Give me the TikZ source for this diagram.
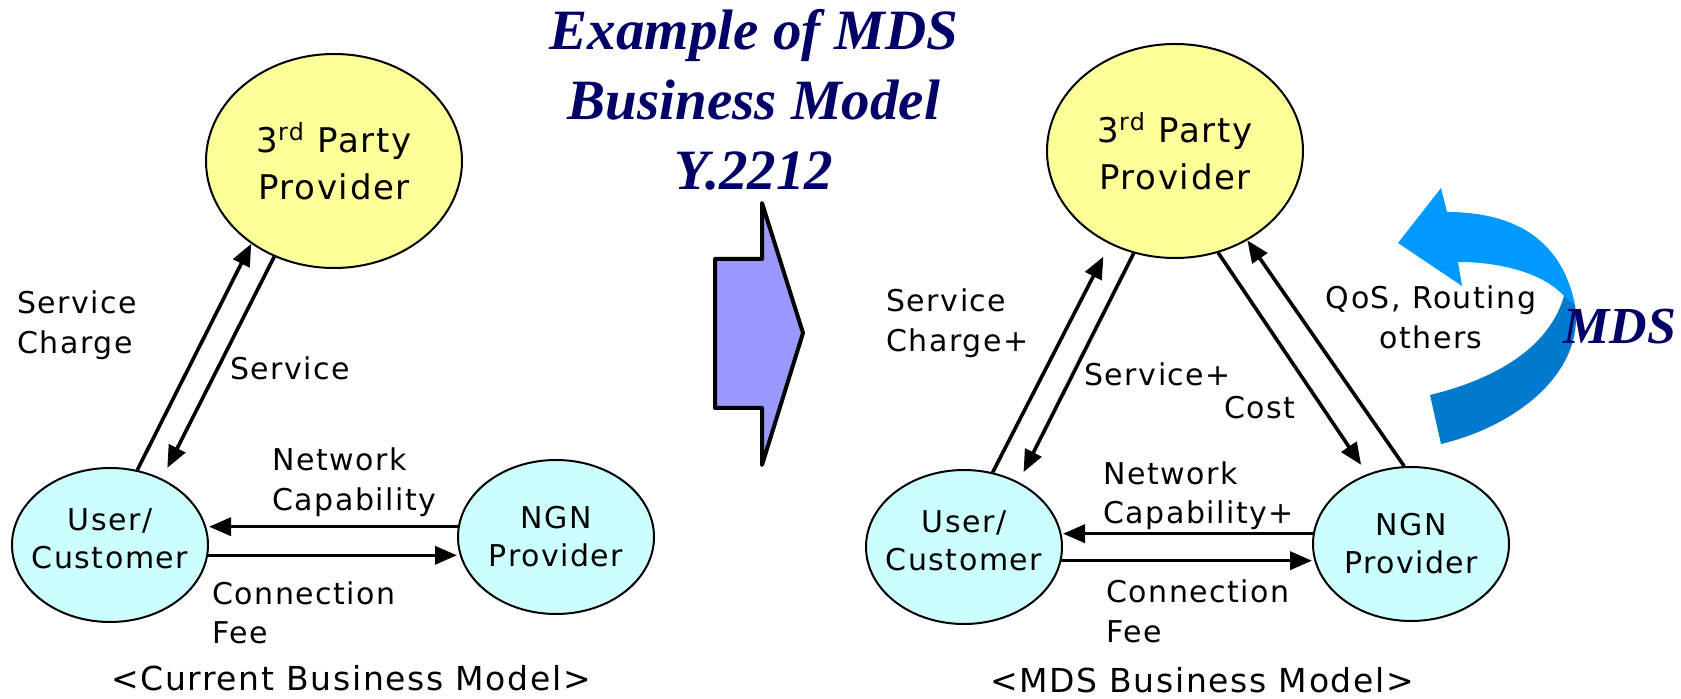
\documentclass[tikz,border=0pt]{standalone}
\usepackage{fontspec}
\setmainfont{DejaVu Sans}[LetterSpace=5]
\newfontfamily\titlefont{Liberation Serif}
\usetikzlibrary{shapes.geometric,arrows.meta}
\definecolor{partyyellow}{RGB}{255,255,153}
\definecolor{actorcyan}{RGB}{204,255,255}
\definecolor{shiftblue}{RGB}{153,153,255}
\definecolor{titlenavy}{RGB}{0,0,102}
\definecolor{mdslight}{RGB}{0,153,255}
\definecolor{mdsdark}{RGB}{0,122,204}
\tikzset{
  party/.style={ellipse, draw, line width=1pt, fill=partyyellow,
    minimum width=128pt, minimum height=107pt, inner sep=0pt},
  actor/.style={ellipse, draw, line width=1pt, fill=actorcyan,
    minimum width=98pt, minimum height=77pt, inner sep=0pt},
  partytext/.style={align=center, inner sep=0pt, font=\fontsize{17}{23.5}\selectfont},
  actortext/.style={align=center, inner sep=0pt, font=\fontsize{15}{19}\selectfont},
  lbl/.style={anchor=base west, align=left, inner sep=0pt, font=\fontsize{15}{20}\selectfont},
  caption/.style={anchor=base, inner sep=0pt, font=\fontsize{16.5}{20}\selectfont},
  link/.style={line width=1.8pt, -{Triangle[length=11pt,width=9pt]}},
  heading/.style={inner sep=0pt, text=titlenavy},
}
\begin{document}
\begin{tikzpicture}[x=0.5pt, y=-0.5pt]
    \useasboundingbox (0,0) rectangle (1681,699);
    % current model
    \node [party] (tpL) at (334,161) {};
    \node [actor] (userL) at (110,545) {};
    \node [actor] (ngnL) at (556,537) {};
    \node [partytext] (tpLtext) at (tpL) {3\textsuperscript{rd} Party\\Provider};
    \node [actortext, yshift=3pt] (userLtext) at (userL) {User/\\Customer};
    \node [actortext] (ngnLtext) at (ngnL) {NGN\\Provider};
    \path (userL.70) edge [link] (tpL.225);
    \path (tpL.238) edge [link, shorten >=6pt] (userL.52);
    \path (ngnL.174) edge [link] (ngnL.174 -| userL.east);
    \path (userL.-6) edge [link] (userL.-6 -| ngnL.west);
    \node [lbl] (scL) at (17,354) {Service\\Charge};
    \node [lbl] (svL) at (230,380) {Service};
    \node [lbl] (ncL) at (272,511) {Network\\Capability};
    \node [lbl] (cfL) at (212,644) {Connection\\Fee};
    \node [caption] (capL) at (351,690) {<Current Business Model>};
    % shift arrow and heading
    \draw [line width=2pt, line join=round, fill=shiftblue]
      (762,203) -- (803,333) -- (762,465) -- (762,408) -- (715,408)
      -- (715,259) -- (762,259) -- cycle;
    \node [heading, anchor=base, align=center,
      font=\titlefont\bfseries\itshape\fontsize{28.5}{35}\selectfont] (title) at (754,190)
      {Example of MDS\\Business Model\\Y.2212};
    % MDS model
    \fill [mdslight] (1398,243) -- (1441,188) -- (1447,212)
      .. controls (1515,212) and (1562,240) .. (1575,305) -- (1564,296)
      .. controls (1545,275) and (1505,262) .. (1458,262) -- (1462,286) -- cycle;
    \fill [mdsdark] (1575,305) .. controls (1585,370) and (1520,425) .. (1441,444)
      -- (1430,395) .. controls (1500,378) and (1550,345) .. (1564,296) -- cycle;
    \node [party] (tpR) at (1175,151) {};
    \node [actor] (userR) at (964,547) {};
    \node [actor] (ngnR) at (1411,544) {};
    \node [partytext] (tpRtext) at (tpR) {3\textsuperscript{rd} Party\\Provider};
    \node [actortext, yshift=3pt] (userRtext) at (userR) {User/\\Customer};
    \node [actortext] (ngnRtext) at (ngnR) {NGN\\Provider};
    \path (userR.69) edge [link, shorten >=7pt] (tpR.235);
    \path (tpR.248) edge [link, shorten >=5.5pt] (userR.50);
    \path (tpR.293) edge [link, shorten >=5.5pt] (ngnR.122);
    \path (ngnR.95) edge [link] (tpR.309);
    \path (ngnR.174) edge [link] (ngnR.174 -| userR.east);
    \path (userR.-8) edge [link] (userR.-8 -| ngnR.west);
    \node [lbl] (scR) at (886,352) {Service\\Charge+};
    \node [lbl] (svR) at (1084,386) {Service+};
    \node [lbl] (coR) at (1224,419) {Cost};
    \node [lbl, anchor=base, align=center] (qosR) at (1431,349) {QoS, Routing\\others};
    \node [lbl] (ncR) at (1103,524) {Network\\Capability+};
    \node [lbl] (cfR) at (1106,642) {Connection\\Fee};
    \node [caption] (capR) at (1202,692) {<MDS Business Model>};
    \node [heading, anchor=base west,
      font=\titlefont\bfseries\itshape\fontsize{26}{30}\selectfont] (mds) at (1563,344) {MDS};
  \end{tikzpicture}
\end{document}
